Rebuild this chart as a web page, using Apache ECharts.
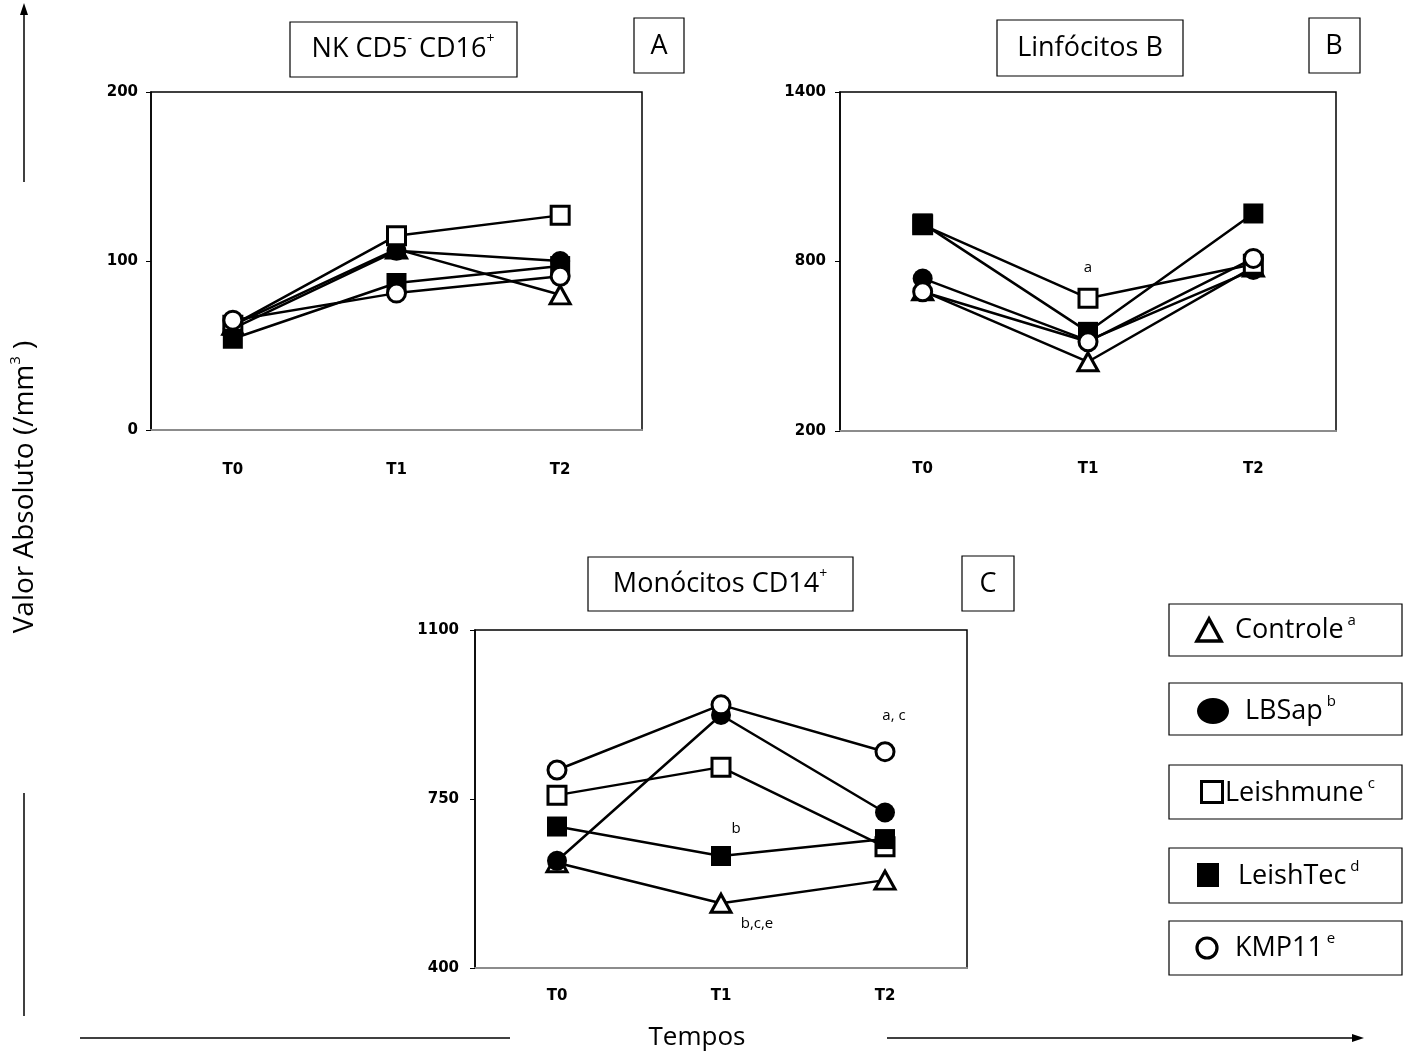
<!DOCTYPE html>
<html><head><meta charset="utf-8">
<script src="https://cdn.jsdelivr.net/npm/echarts@6/dist/echarts.min.js"></script>
<style>html,body{margin:0;padding:0;background:#fff}#c{width:1410px;height:1057px}</style>
</head><body><div id="c"></div>
<script>
// ---------- DATA ----------
const categories = ['T0', 'T1', 'T2'];
const groupNames = ['Controle', 'LBSap', 'Leishmune', 'LeishTec', 'KMP11'];
const groupLetters = ['a', 'b', 'c', 'd', 'e'];

// Panel A: NK CD5- CD16+
const nkControle  = [62, 107, 80];
const nkLBSap     = [60, 106, 100];
const nkLeishmune = [62, 115, 127];
const nkLeishTec  = [54, 87, 97];
const nkKMP11     = [65, 81, 91];

// Panel B: Linfócitos B
const lbControle  = [696, 445, 780];
const lbLBSap     = [740, 520, 770];
const lbLeishmune = [930, 670, 790];
const lbLeishTec  = [935, 551, 970];
const lbKMP11     = [693, 516, 811];

// Panel C: Monócitos CD14+
const moControle  = [618, 534, 582];
const moLBSap     = [622, 924, 722];
const moLeishmune = [758, 816, 651];
const moLeishTec  = [693, 632, 667];
const moKMP11     = [810, 945, 848];

// y-axis ranges (min, max, interval)
const yRangeA = [0, 200, 100];
const yRangeB = [200, 1400, 600];
const yRangeC = [400, 1100, 350];

// significance annotations: [panel, group, category index, text]
const annotations = [
  ['B', 'Leishmune', 1, 'a'],
  ['C', 'LeishTec', 1, 'b'],
  ['C', 'Controle', 1, 'b,c,e'],
  ['C', 'KMP11', 2, 'a, c']
];

// ---------- STYLE ----------
const FONT = '"Open Sans", "Noto Sans", sans-serif';
const AXFONT = '"DejaVu Sans", "Liberation Sans", Arial, sans-serif';

const symbolStyles = {
  Controle:  { symbol: 'triangle', symbolSize: [20, 18], itemStyle: { color: '#fff', borderColor: '#000', borderWidth: 3 } },
  LBSap:     { symbol: 'circle', symbolSize: 20, itemStyle: { color: '#000', borderColor: '#000', borderWidth: 0 } },
  Leishmune: { symbol: 'rect', symbolSize: 18, itemStyle: { color: '#fff', borderColor: '#000', borderWidth: 3 } },
  LeishTec:  { symbol: 'rect', symbolSize: 20, itemStyle: { color: '#000', borderColor: '#000', borderWidth: 0 } },
  KMP11:     { symbol: 'circle', symbolSize: 18, itemStyle: { color: '#fff', borderColor: '#000', borderWidth: 3 } }
};

const annotLabelStyle = {
  'B|Leishmune|1': { position: 'top', distance: 12, offset: [0, 0] },
  'C|LeishTec|1':  { position: 'top', distance: 10, offset: [15, 0] },
  'C|Controle|1':  { position: 'bottom', distance: 3, offset: [36, 0] },
  'C|KMP11|2':     { position: 'top', distance: 18, offset: [9, 0] }
};

const panels = [
  { key: 'A', grid: { left: 151, top: 92, width: 491, height: 338 }, range: yRangeA, yMargin: 13, xMargin: 33,
    values: [nkControle, nkLBSap, nkLeishmune, nkLeishTec, nkKMP11] },
  { key: 'B', grid: { left: 840, top: 92, width: 496, height: 339 }, range: yRangeB, yMargin: 14, xMargin: 31,
    values: [lbControle, lbLBSap, lbLeishmune, lbLeishTec, lbKMP11] },
  { key: 'C', grid: { left: 475, top: 630, width: 492, height: 338 }, range: yRangeC, yMargin: 16, xMargin: 21,
    values: [moControle, moLBSap, moLeishmune, moLeishTec, moKMP11] }
];

const grids = [], xAxes = [], yAxes = [], series = [];
panels.forEach((p, gi) => {
  grids.push(Object.assign({ show: true, borderColor: '#000', borderWidth: 1.5, backgroundColor: '#fff', containLabel: false }, p.grid));
  xAxes.push({
    gridIndex: gi, type: 'category', data: categories, boundaryGap: true,
    axisLine: { show: true, lineStyle: { color: '#8c8c8c', width: 2 } },
    axisTick: { show: false },
    axisLabel: { fontFamily: AXFONT, fontWeight: 'bold', fontSize: 15, color: '#000', margin: p.xMargin },
    splitLine: { show: false }
  });
  yAxes.push({
    gridIndex: gi, type: 'value', min: p.range[0], max: p.range[1], interval: p.range[2],
    axisLine: { show: true, lineStyle: { color: '#000', width: 1.5 } },
    axisTick: { show: true, inside: false, length: 5, lineStyle: { color: '#000', width: 1 } },
    axisLabel: { fontFamily: AXFONT, fontWeight: 'bold', fontSize: 15, color: '#000', margin: p.yMargin,
      formatter: v => String(v) },
    splitLine: { show: false }
  });
  groupNames.forEach((g, si) => {
    const data = p.values[si].map((v, ci) => {
      const a = annotations.find(x => x[0] === p.key && x[1] === g && x[2] === ci);
      if (!a) return v;
      const st = annotLabelStyle[p.key + '|' + g + '|' + ci];
      return {
        value: v,
        label: Object.assign({ show: true, formatter: a[3], fontFamily: FONT, fontSize: 15, color: '#000' }, st)
      };
    });
    series.push(Object.assign({
      type: 'line', name: g, xAxisIndex: gi, yAxisIndex: gi, data: data,
      lineStyle: { color: '#000', width: 2.5 },
      showAllSymbol: true, animation: false, z: 2 + si,
      emphasis: { disabled: true }
    }, JSON.parse(JSON.stringify(symbolStyles[g]))));
  });
});

// ---------- GRAPHICS (titles, boxes, legend, axis titles) ----------
function mkRich(n, s) {
  return {
    n: { fontFamily: FONT, fontSize: n, color: '#000', lineHeight: n + 6 },
    s: { fontFamily: FONT, fontSize: s, color: '#000', lineHeight: s + 2, verticalAlign: 'top' }
  };
}
const richTitle = mkRich(27, 14);
const richLegend = mkRich(27, 15);
const richAxis = mkRich(28, 15);
const richTempos = mkRich(26, 14);

function box(x, y, w, h) {
  return { type: 'rect', shape: { x: x, y: y, width: w, height: h }, style: { fill: '#fff', stroke: '#000', lineWidth: 1.2 }, z: 10 };
}
function txt(x, y, text, rich, extra) {
  return { type: 'text', x: x, y: y, z: 11, style: Object.assign({ text: text, rich: rich, align: 'center', verticalAlign: 'middle', fill: '#000' }, extra || {}) };
}

const graphics = [];
// Panel titles
graphics.push(box(290, 22, 227, 55), txt(403, 49, '{n|NK CD5}{s|-}{n| CD16}{s|+}', richTitle));
graphics.push(box(634, 18, 50, 55), txt(659, 46, '{n|A}', richTitle));
graphics.push(box(997, 20, 186, 56), txt(1090, 48, '{n|Linfócitos B}', richTitle));
graphics.push(box(1309, 18, 51, 55), txt(1334, 46, '{n|B}', richTitle));
graphics.push(box(588, 557, 265, 54), txt(720, 584, '{n|Monócitos CD14}{s|+}', richTitle));
graphics.push(box(962, 556, 52, 55), txt(988, 584, '{n|C}', richTitle));

// Legend boxes
const legendBoxes = [[604, 52], [683, 52], [765, 54], [848, 55], [921, 54]];
legendBoxes.forEach((b) => { graphics.push(box(1169, b[0], 233, b[1])); });
// legend symbols
graphics.push({ type: 'polygon', z: 12, shape: { points: [[1209, 619], [1197, 641], [1221, 641]] }, style: { fill: '#fff', stroke: '#000', lineWidth: 3.5, lineJoin: 'miter' } });
graphics.push({ type: 'ellipse', z: 12, shape: { cx: 1213, cy: 711, rx: 16, ry: 13 }, style: { fill: '#000' } });
graphics.push({ type: 'rect', z: 12, shape: { x: 1201.5, y: 781.5, width: 21, height: 21 }, style: { fill: '#fff', stroke: '#000', lineWidth: 3 } });
graphics.push({ type: 'rect', z: 12, shape: { x: 1197, y: 863, width: 22, height: 24 }, style: { fill: '#000' } });
graphics.push({ type: 'circle', z: 12, shape: { cx: 1207, cy: 948, r: 10 }, style: { fill: '#fff', stroke: '#000', lineWidth: 3.2 } });
// legend texts
const legendTextX = [1235, 1245, 1225, 1238, 1235];
const legendTextY = [630, 711, 793, 876, 948];
groupNames.forEach((g, i) => {
  graphics.push(txt(legendTextX[i], legendTextY[i], '{n|' + g + '}{s| ' + groupLetters[i] + '}', richLegend, { align: 'left' }));
});

// axis titles & arrows
graphics.push({ type: 'text', x: 25, y: 487, rotation: Math.PI / 2, z: 11,
  style: { text: '{n|Valor Absoluto (/mm}{s|3}{n| )}', rich: richAxis, align: 'center', verticalAlign: 'middle', fill: '#000' } });
graphics.push({ type: 'line', shape: { x1: 24, y1: 182, x2: 24, y2: 12 }, style: { stroke: '#000', lineWidth: 1.5 } });
graphics.push({ type: 'polygon', shape: { points: [[24, 3], [20, 15], [28, 15]] }, style: { fill: '#000' } });
graphics.push({ type: 'line', shape: { x1: 24, y1: 793, x2: 24, y2: 1016 }, style: { stroke: '#000', lineWidth: 1.5 } });
graphics.push(txt(697, 1038, '{n|Tempos}', richTempos));
graphics.push({ type: 'line', shape: { x1: 80, y1: 1038, x2: 510, y2: 1038 }, style: { stroke: '#000', lineWidth: 1.5 } });
graphics.push({ type: 'line', shape: { x1: 887, y1: 1038, x2: 1354, y2: 1038 }, style: { stroke: '#000', lineWidth: 1.5 } });
graphics.push({ type: 'polygon', shape: { points: [[1364, 1038], [1352, 1034], [1352, 1042]] }, style: { fill: '#000' } });

const chart = echarts.init(document.getElementById('c'), null, { renderer: 'canvas' });
chart.setOption({
  backgroundColor: '#fff',
  animation: false,
  grid: grids,
  xAxis: xAxes,
  yAxis: yAxes,
  series: series,
  graphic: graphics
});
</script>
</body></html>
